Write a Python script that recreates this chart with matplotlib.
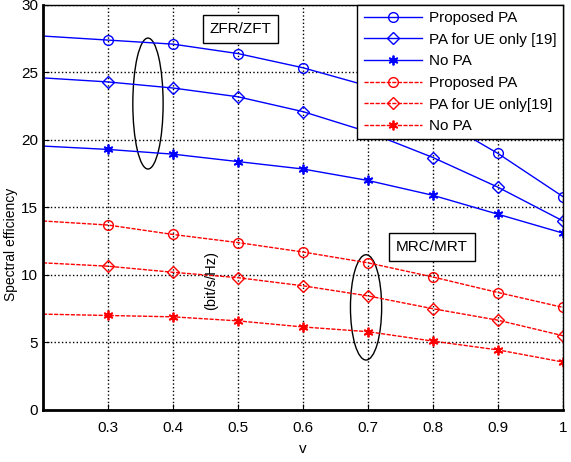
import matplotlib
matplotlib.use("Agg")
import matplotlib.pyplot as plt
from matplotlib.patches import Ellipse
import numpy as np

plt.rcParams['font.family'] = ['Liberation Sans', 'DejaVu Sans']

v = [0.2, 0.3, 0.4, 0.5, 0.6, 0.7, 0.8, 0.9, 1.0]

# ZFR/ZFT (blue)
zf_proposed = [27.7, 27.4, 27.1, 26.4, 25.35, 24.0, 21.8, 19.0, 15.8]
zf_ue_only = [24.6, 24.3, 23.85, 23.2, 22.1, 20.6, 18.7, 16.5, 14.0]
zf_no_pa = [19.55, 19.3, 18.95, 18.4, 17.85, 17.0, 15.9, 14.5, 13.1]

# MRC/MRT (red)
mr_proposed = [14.0, 13.7, 13.0, 12.4, 11.7, 10.9, 9.85, 8.7, 7.6]
mr_ue_only = [10.9, 10.65, 10.2, 9.8, 9.2, 8.45, 7.5, 6.65, 5.5]
mr_no_pa = [7.1, 7.0, 6.9, 6.6, 6.15, 5.8, 5.1, 4.45, 3.55]

labels = ["Proposed PA", "PA for UE only [19]", "No PA",
          "Proposed PA", "PA for UE only[19]", "No PA"]

fig = plt.figure(figsize=(5.71, 4.62), dpi=100)
ax = fig.add_axes([0.0753, 0.1126, 0.9107, 0.8766])

blue = (0.0, 0.0, 1.0)
red = (1.0, 0.0, 0.0)
star = (6, 2, 0)
every = slice(1, None)

ax.plot(v, zf_proposed, '-', marker='o', color=blue, label=labels[0], markevery=every,
        markersize=7, markerfacecolor='none', linewidth=1.0)
ax.plot(v, zf_ue_only, '-', marker='D', color=blue, label=labels[1], markevery=every,
        markersize=6, markerfacecolor='none', linewidth=1.0)
ax.plot(v, zf_no_pa, '-', marker=star, color=blue, label=labels[2], markevery=every,
        markersize=7, markeredgewidth=1.3, linewidth=1.0)
ax.plot(v, mr_proposed, '--', marker='o', color=red, label=labels[3], dashes=(3, 1),
        markevery=every, markersize=7, markerfacecolor='none', linewidth=1.0)
ax.plot(v, mr_ue_only, '--', marker='D', color=red, label=labels[4], dashes=(3, 1),
        markevery=every, markersize=6, markerfacecolor='none', linewidth=1.0)
ax.plot(v, mr_no_pa, '--', marker=star, color=red, label=labels[5], dashes=(3, 1),
        markevery=every, markersize=7, markeredgewidth=1.3, linewidth=1.0)

ax.set_xlim(0.2, 1.0)
ax.set_ylim(0, 30)
ax.set_xticks([0.3, 0.4, 0.5, 0.6, 0.7, 0.8, 0.9, 1.0])
ax.set_xticklabels(["0.3", "0.4", "0.5", "0.6", "0.7", "0.8", "0.9", "1"])
ax.set_yticks(np.arange(0, 31, 5))
ax.tick_params(direction='in', labelsize=11, length=4)
ax.tick_params(axis='x', pad=8)
ax.grid(True, color='black', linestyle=':', linewidth=1.0)
for s in ax.spines.values():
    s.set_linewidth(1.0)
ax.spines['left'].set_linewidth(2.0)
ax.spines['bottom'].set_linewidth(2.0)

ax.set_xlabel("v", fontsize=11, labelpad=5)
ax.set_ylabel("Spectral efficiency", fontsize=10)
ax.yaxis.set_label_coords(-0.049, 0.41)

ax.add_patch(Ellipse((0.3615, 22.7), 0.0466, 9.7, fill=False, edgecolor='black', linewidth=1.0))
ax.add_patch(Ellipse((0.697, 7.6), 0.048, 7.8, fill=False, edgecolor='black', linewidth=1.0))

box = dict(boxstyle='square,pad=0.45', facecolor='white', edgecolor='black', linewidth=1.0)
ax.text(0.504, 28.2, "ZFR/ZFT", ha='center', va='center', fontsize=11, bbox=box)
ax.text(0.798, 12.1, "MRC/MRT", ha='center', va='center', fontsize=11, bbox=box)
ax.text(0.458, 9.6, "(bit/s/Hz)", rotation=90, ha='center', va='center', fontsize=10.5)

leg = ax.legend(loc='upper right', fontsize=11, handlelength=3.8, borderaxespad=0,
                fancybox=False, framealpha=1, edgecolor='black', borderpad=0.4,
                labelspacing=0.5, handletextpad=0.5)
leg.get_frame().set_linewidth(1.0)

fig.savefig("out.png", dpi=100)
